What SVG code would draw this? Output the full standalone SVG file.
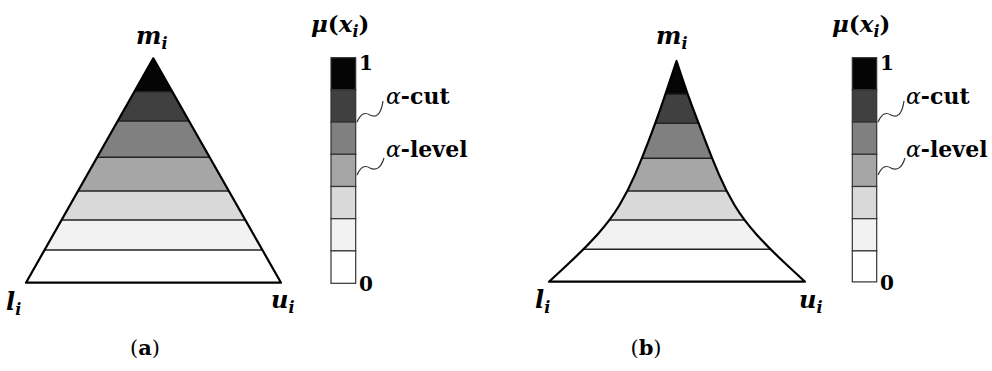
<svg xmlns="http://www.w3.org/2000/svg" width="992" height="371" viewBox="0 0 992 371">
<style>
.math{font-family:"DejaVu Serif","Liberation Serif",serif;font-weight:bold;font-style:italic;fill:#000}
.up{font-style:normal}
.num{font-family:"DejaVu Serif","Liberation Serif",serif;font-weight:bold;font-size:20px;fill:#000}
.lab{font-family:"DejaVu Serif","Liberation Serif",serif;font-weight:bold;font-size:22px;fill:#000}
.alpha{font-style:italic;font-weight:normal}
.cap{font-family:"DejaVu Serif","Liberation Serif",serif;font-size:21px;fill:#000}
.band{stroke:none}
.cut{stroke:#222;stroke-width:1.6;fill:none}
.outline{fill:none;stroke:#000;stroke-width:2.2;stroke-linejoin:round}
.cell{stroke:#333;stroke-width:1.2}
.sq{fill:none;stroke:#333;stroke-width:1.2}
</style>
<defs>
<clipPath id="clipA"><polygon points="153.3,58.3 26,282.7 281,282.7"/></clipPath>
<clipPath id="clipB"><path id="shapeB" d="M676.5,61 L671,77.65 Q665.5,94.3 660.4,108.8 Q655.3,123.3 648.65,140.8 Q642,158.3 635,174.65 Q628,191 619.25,205.5 Q610.5,220 597.25,234.65 Q584,249.3 566.5,265.5 L549,281.7 L805,281.7 L787.5,265.5 Q770,249.3 756.75,234.65 Q743.5,220 734.75,205.5 Q726,191 719,174.65 Q712,158.3 705.35,140.8 Q698.7,123.3 693.1,108.8 Q687.5,94.3 682,77.65 Z"/></clipPath>
</defs>

<!-- Panel (a): triangular fuzzy number -->
<g id="shapeA">
<g clip-path="url(#clipA)">
<rect class="band" x="20" y="55" width="270" height="36.7" fill="#050505"/>
<rect class="band" x="20" y="91.7" width="270" height="29.3" fill="#404040"/>
<rect class="band" x="20" y="121" width="270" height="36.3" fill="#808080"/>
<rect class="band" x="20" y="157.3" width="270" height="33.7" fill="#a6a6a6"/>
<rect class="band" x="20" y="191" width="270" height="29" fill="#d9d9d9"/>
<rect class="band" x="20" y="220" width="270" height="30" fill="#f2f2f2"/>
<rect class="band" x="20" y="250" width="270" height="35" fill="#ffffff"/>
<g class="cut">
<line x1="20" y1="91.7" x2="290" y2="91.7"/>
<line x1="20" y1="121" x2="290" y2="121"/>
<line x1="20" y1="157.3" x2="290" y2="157.3"/>
<line x1="20" y1="191" x2="290" y2="191"/>
<line x1="20" y1="220" x2="290" y2="220"/>
<line x1="20" y1="250" x2="290" y2="250"/>
</g>
</g>
<polygon class="outline" points="153.3,58.3 26,282.7 281,282.7"/>
</g>
<g id="labelsA">
<text class="math" x="136" y="44" font-size="24">m<tspan font-size="16" dy="5">i</tspan></text>
<text class="math" x="6" y="310" font-size="24">l<tspan font-size="16" dy="5">i</tspan></text>
<text class="math" x="271" y="308" font-size="24">u<tspan font-size="16" dy="5">i</tspan></text>
<text class="cap" x="145" y="355" text-anchor="middle">(<tspan font-weight="bold">a</tspan>)</text>
</g>

<!-- Legend (a) -->
<g id="legendA">
<rect class="cell" x="331" y="57.7" width="24.7" height="32.2" fill="#050505"/>
<rect class="cell" x="331" y="89.9" width="24.7" height="32.2" fill="#404040"/>
<rect class="cell" x="331" y="122.1" width="24.7" height="32.2" fill="#808080"/>
<rect class="cell" x="331" y="154.3" width="24.7" height="32.2" fill="#a6a6a6"/>
<rect class="cell" x="331" y="186.5" width="24.7" height="32.2" fill="#d9d9d9"/>
<rect class="cell" x="331" y="218.7" width="24.7" height="32.2" fill="#f2f2f2"/>
<rect class="cell" x="331" y="250.9" width="24.7" height="32.4" fill="#ffffff"/>
<text class="math" x="311" y="32" font-size="23">μ<tspan class="up">(</tspan>x<tspan font-size="16" dy="5">i</tspan><tspan class="up" dy="-5">)</tspan></text>
<text class="num" x="359" y="70">1</text>
<text class="num" x="359" y="291">0</text>
<path class="sq" d="M357,122 C361,113 365,112 370,115 C376,118 381,115 383,101"/>
<path class="sq" d="M357,175 C361,166 365,165 370,168 C376,171 381,168 384,158"/>
<text class="lab" x="386" y="104"><tspan class="alpha">α</tspan>-cut</text>
<text class="lab" x="386" y="157"><tspan class="alpha">α</tspan>-level</text>
</g>

<!-- Panel (b): curved fuzzy number -->
<g id="shapeBgroup">
<g clip-path="url(#clipB)">
<rect class="band" x="540" y="55" width="275" height="39.3" fill="#050505"/>
<rect class="band" x="540" y="94.3" width="275" height="29" fill="#404040"/>
<rect class="band" x="540" y="123.3" width="275" height="35" fill="#808080"/>
<rect class="band" x="540" y="158.3" width="275" height="32.7" fill="#a6a6a6"/>
<rect class="band" x="540" y="191" width="275" height="29" fill="#d9d9d9"/>
<rect class="band" x="540" y="220" width="275" height="29.3" fill="#f2f2f2"/>
<rect class="band" x="540" y="249.3" width="275" height="35" fill="#ffffff"/>
<g class="cut">
<line x1="540" y1="94.3" x2="815" y2="94.3"/>
<line x1="540" y1="123.3" x2="815" y2="123.3"/>
<line x1="540" y1="158.3" x2="815" y2="158.3"/>
<line x1="540" y1="191" x2="815" y2="191"/>
<line x1="540" y1="220" x2="815" y2="220"/>
<line x1="540" y1="249.3" x2="815" y2="249.3"/>
</g>
</g>
<use href="#shapeB" class="outline"/>
</g>
<g id="labelsB">
<text class="math" x="656" y="44" font-size="24">m<tspan font-size="16" dy="5">i</tspan></text>
<text class="math" x="535" y="308" font-size="24">l<tspan font-size="16" dy="5">i</tspan></text>
<text class="math" x="799" y="308" font-size="24">u<tspan font-size="16" dy="5">i</tspan></text>
<text class="cap" x="646" y="355" text-anchor="middle">(<tspan font-weight="bold">b</tspan>)</text>
</g>

<!-- Legend (b) -->
<g id="legendB">
<rect class="cell" x="852.3" y="57.7" width="24.4" height="32.2" fill="#050505"/>
<rect class="cell" x="852.3" y="89.9" width="24.4" height="32.2" fill="#404040"/>
<rect class="cell" x="852.3" y="122.1" width="24.4" height="32.2" fill="#808080"/>
<rect class="cell" x="852.3" y="154.3" width="24.4" height="32.2" fill="#a6a6a6"/>
<rect class="cell" x="852.3" y="186.5" width="24.4" height="32.2" fill="#d9d9d9"/>
<rect class="cell" x="852.3" y="218.7" width="24.4" height="32.2" fill="#f2f2f2"/>
<rect class="cell" x="852.3" y="250.9" width="24.4" height="31" fill="#ffffff"/>
<text class="math" x="832" y="32" font-size="23">μ<tspan class="up">(</tspan>x<tspan font-size="16" dy="5">i</tspan><tspan class="up" dy="-5">)</tspan></text>
<text class="num" x="880" y="70">1</text>
<text class="num" x="880" y="290">0</text>
<path class="sq" d="M878,122 C882,113 886,112 891,115 C897,118 902,115 904,101"/>
<path class="sq" d="M878,175 C882,166 886,165 891,168 C897,171 902,168 905,158"/>
<text class="lab" x="906" y="104"><tspan class="alpha">α</tspan>-cut</text>
<text class="lab" x="906" y="157"><tspan class="alpha">α</tspan>-level</text>
</g>
</svg>
